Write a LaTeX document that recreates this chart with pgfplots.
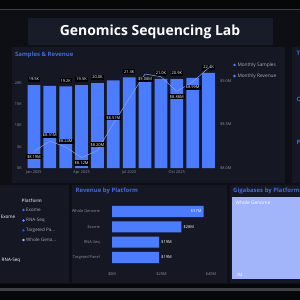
\documentclass[border=0pt]{standalone}
\usepackage{pgfplots}
\pgfplotsset{compat=1.18}
\usepackage{fontspec}
\setmainfont{Open Sans}
\definecolor{bgc}{HTML}{0D0F15}
\definecolor{topc}{HTML}{060709}
\definecolor{topline}{HTML}{3E4045}
\definecolor{panel}{HTML}{151822}
\definecolor{titlepanel}{HTML}{181C28}
\definecolor{barblue}{HTML}{4B7BFF}
\definecolor{ttlblue}{HTML}{3F6BE0}
\definecolor{tickgray}{HTML}{8C919C}
\definecolor{legtext}{HTML}{A9AEB8}
\definecolor{linec}{HTML}{8DA2F2}
\definecolor{tree}{HTML}{A2B5FB}
\definecolor{exome}{HTML}{3D6FF5}
\definecolor{rnaseq}{HTML}{5A8AFF}
\definecolor{targ}{HTML}{2A5BE0}
\definecolor{wg}{HTML}{9DB4FF}
\pgfplotsset{dash/.style={scale only axis, anchor=south west,
  axis line style={draw=none}, tick style={draw=none}, major tick length=0pt,
  ticklabel style={font=\fontsize{3.9}{4}\selectfont, text=tickgray, inner sep=0pt},
  /pgf/number format/assume math mode=true}}
\newcommand\legitem[4]{\fill[#2] (23.5,#1) circle (1.3);
  \node[anchor=west, text=legtext, font=\fontsize{4.6}{5}\selectfont, inner sep=0pt] at (26,#1) {#3};}
\begin{document}
\begin{tikzpicture}
\useasboundingbox (0bp,0bp) rectangle (300bp,-300bp);
\clip (0bp,0bp) rectangle (300bp,-300bp);
\begin{scope}[x=1bp,y=-1bp]
\fill[bgc] (0,0) rectangle (300,300);
\fill[topc] (0,0) rectangle (300,9);
\fill[topline] (0,9) rectangle (300,10.2);
\fill[topc] (0,284) rectangle (300,300);
\fill[topline] (0,288) rectangle (300,291);
\fill[titlepanel] (28,18) rectangle (273,45);
\node[text=white, font=\bfseries\fontsize{14}{14}\selectfont] at (150,31.5) {Genomics Sequencing Lab};
\fill[panel] (12,47) rectangle (285,183);
\fill[panel] (292,47) rectangle (305,183);
\fill[panel] (-5,185) rectangle (69,283);
\fill[panel] (72,185) rectangle (227,283);
\fill[panel] (230,185) rectangle (305,283);
\node[anchor=west, text=ttlblue, font=\bfseries\fontsize{6}{6}\selectfont, inner sep=0pt] at (15,54.7) {Samples \& Revenue};
\node[anchor=west, text=ttlblue, font=\bfseries\fontsize{6}{6}\selectfont, inner sep=0pt] at (75.5,191) {Revenue by Platform};
\node[anchor=west, text=ttlblue, font=\bfseries\fontsize{6}{6}\selectfont, inner sep=0pt] at (233,191) {Gigabases by Platform};
\node[anchor=west, text=ttlblue, font=\bfseries\fontsize{6}{6}\selectfont, inner sep=0pt] at (296.5,53) {T};
\node[anchor=west, text=ttlblue, font=\bfseries\fontsize{6}{6}\selectfont, inner sep=0pt] at (296.5,99) {C};
\node[anchor=west, text=ttlblue, font=\bfseries\fontsize{6}{6}\selectfont, inner sep=0pt] at (296.5,142) {P};
\end{scope}

% Samples bars
\begin{axis}[dash, at={(26bp,-168bp)}, width=190.5bp, height=97.75bp,
  xmin=-0.5, xmax=11.5, ymin=0, ymax=23, clip=false,
  xtick={0,3,6,9}, xticklabels={Jan 2025,Apr 2025,Jul 2025,Oct 2025},
  xticklabel style={yshift=-2.5bp},
  ytick={0,5,10,15,20}, yticklabels={0K,5K,10K,15K,20K},
  yticklabel style={xshift=-4bp}]
\addplot[ybar, bar width=0.8, fill=barblue, draw=none] coordinates {
 (0,19.5) (1,19.3) (2,19.2) (3,19.5) (4,20.0) (5,20.6)
 (6,21.3) (7,20.8) (8,21.0) (9,20.9) (10,21.2) (11,22.4)};
\addplot[draw=none, mark=none, nodes near coords, point meta=explicit symbolic,
  every node near coord/.style={fill=black, text=white, font=\fontsize{4}{4}\selectfont, inner sep=1bp, anchor=south, yshift=3bp}]
 coordinates {(0,19.5)[19.5K] (2,19.2)[19.2K] (3,19.5)[19.5K] (4,20.0)[20.0K]
 (6,21.3)[21.3K] (8,21.0)[21.0K] (9,20.9)[20.9K] (11,22.4)[22.4K]};
\end{axis}

% Revenue line
\begin{axis}[dash, at={(26bp,-168bp)}, width=190.5bp, height=97.75bp,
  xmin=-0.5, xmax=11.5, ymin=8, ymax=9.1236, clip=false,
  xtick=\empty, ytick={8,8.5,9}, yticklabels={\$8.0M,\$8.5M,\$9.0M},
  yticklabel pos=right, yticklabel style={anchor=west, xshift=3.5bp}]
\addplot[linec, line width=0.5bp, mark=none] coordinates {
 (0,8.19) (1,8.31) (2,8.24) (3,8.12) (4,8.20) (5,8.51)
 (6,8.80) (7,9.08) (8,9.05) (9,8.88) (10,8.99) (11,9.15)};
\addplot[draw=none, mark=none, nodes near coords, point meta=explicit symbolic,
  every node near coord/.style={fill=black, text=white, font=\fontsize{4}{4}\selectfont, inner sep=1bp, anchor=south, yshift=3bp}]
 coordinates {(1,8.31)[\$8.31M] (2,8.24)[\$8.24M] (4,8.20)[\$8.20M] (5,8.51)[\$8.51M]};
\addplot[draw=none, mark=none, nodes near coords, point meta=explicit symbolic,
  every node near coord/.style={fill=black, text=white, font=\fontsize{4}{4}\selectfont, inner sep=1bp, anchor=north, yshift=-2.5bp}]
 coordinates {(0,8.19)[\$8.19M] (3,8.12)[\$8.12M] (7,9.08)[\$9.08M] (9,8.88)[\$8.88M] (10,8.99)[\$8.99M]};
\end{axis}

% Revenue by platform
\begin{axis}[dash, at={(112bp,-266.7bp)}, width=111.4bp, height=64.4bp,
  xmin=0, xmax=45, ymin=-0.6, ymax=3.6, y dir=reverse, clip=false,
  ytick={0,1,2,3}, yticklabels={Whole Genome,Exome,RNA-Seq,Targeted Panel},
  yticklabel style={xshift=-12bp, text=tickgray},
  xtick={0,20,40}, xticklabels={\$0M,\$20M,\$40M},
  xticklabel style={yshift=-5.5bp}]
\addplot[xbar, bar width=0.72, fill=barblue, draw=none] coordinates {
 (37,0) (28,1) (19,2) (19,3)};
\addplot[draw=none, mark=none, nodes near coords, point meta=explicit symbolic,
  every node near coord/.style={text=white, font=\fontsize{4}{4}\selectfont, inner sep=0pt, anchor=east, xshift=-2bp}]
 coordinates {(37,0)[\$37M]};
\addplot[draw=none, mark=none, nodes near coords, point meta=explicit symbolic,
  every node near coord/.style={text=white, font=\fontsize{4}{4}\selectfont, inner sep=0pt, anchor=west, xshift=2bp}]
 coordinates {(28,1)[\$28M] (19,2)[\$19M] (19,3)[\$19M]};
\end{axis}

% Treemap
\begin{axis}[dash, at={(232bp,-279bp)}, width=75bp, height=82bp,
  xmin=0, xmax=1, ymin=0, ymax=1, hide axis, clip=false]
\addplot[fill=tree, draw=none] coordinates {(0,1) (1,1)} \closedcycle;
\end{axis}

\begin{scope}[x=1bp,y=-1bp]
\node[anchor=west, text=white, font=\fontsize{4.8}{5}\selectfont, inner sep=0pt] at (235.5,202.5) {Whole Genome};
\node[anchor=west, text=white, font=\fontsize{4}{4}\selectfont, inner sep=0pt] at (236.5,275) {4M};
\fill[barblue] (234.5,65) circle (1.4);
\node[anchor=west, text=legtext, font=\fontsize{4.8}{5}\selectfont, inner sep=0pt] at (237.3,65) {Monthly Samples};
\fill[rnaseq] (234.5,76) circle (1.4);
\node[anchor=west, text=legtext, font=\fontsize{4.8}{5}\selectfont, inner sep=0pt] at (237.3,76) {Monthly Revenue};
\node[anchor=west, text=legtext, font=\bfseries\fontsize{4.6}{5}\selectfont, inner sep=0pt] at (21.5,201) {Platform};
\legitem{210}{exome}{Exome}{}
\legitem{220.5}{rnaseq}{RNA-Seq}{}
\legitem{230.3}{targ}{Targeted Pa...}{}
\legitem{240}{wg}{Whole Geno...}{}
\node[anchor=east, text=white, font=\fontsize{4.6}{5}\selectfont, inner sep=0pt] at (15.5,216.5) {Exome};
\node[anchor=east, text=white, font=\fontsize{4.6}{5}\selectfont, inner sep=0pt] at (20.5,260.5) {RNA-Seq};
\end{scope}
\end{tikzpicture}
\end{document}
